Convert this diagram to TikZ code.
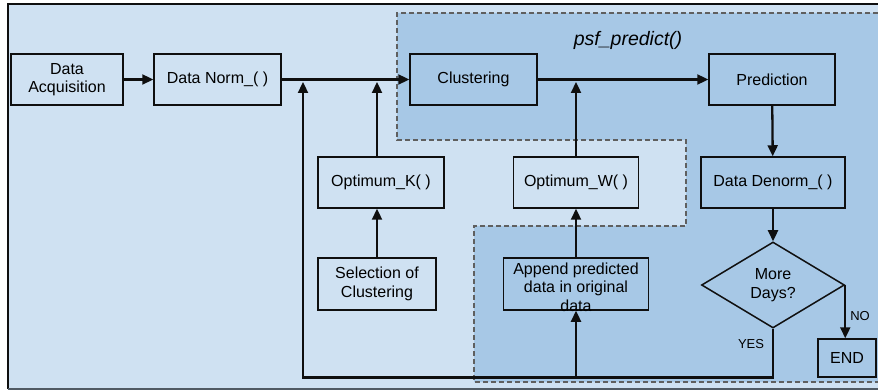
\documentclass[tikz,border=0pt]{standalone}
\usepackage{fontspec}
\setmainfont{Liberation Sans}
\usetikzlibrary{arrows.meta,positioning,shapes.geometric}
\definecolor{ink}{RGB}{15,15,15}
\definecolor{paleblue}{RGB}{207,225,242}
\definecolor{midblue}{RGB}{167,200,230}
\definecolor{dashgrey}{RGB}{95,95,95}
\definecolor{slate}{RGB}{80,90,100}
\tikzset{
  blk/.style={draw=ink,line width=1.5pt,inner sep=0pt,align=center,
    font=\fontsize{16}{18.5}\selectfont},
  txt/.style={inner sep=0pt,align=center,font=\fontsize{16}{18.5}\selectfont},
  dec/.style={diamond,draw=ink,line width=1.5pt,inner sep=0pt,align=center,
    minimum width=143pt,minimum height=86pt,font=\fontsize{16}{18.5}\selectfont},
  arr/.style={-{Triangle[length=11pt,width=10pt]},line width=2.3pt,draw=ink},
  lbl/.style={inner sep=0pt,font=\fontsize{13}{15}\selectfont},
  zonedash/.style={draw=dashgrey,dash pattern=on 5pt off 3pt,line width=1.2pt},
}

\begin{document}
\begin{tikzpicture}[x=1pt,y=-1pt]
\useasboundingbox (0,0) rectangle (878,390);
% background and the psf_predict() zone
\fill[paleblue] (8,4) rectangle (878,389);
\draw[ink,line width=2pt] (878,4) -- (8,4) -- (8,389);
\draw[slate,line width=1.6pt] (8,389) -- (878,389);
\fill[midblue] (397,13) -- (878,13) -- (878,382) -- (474,382) -- (474,226)
  -- (686,226) -- (686,140) -- (397,140) -- cycle;
\draw[zonedash] (878,13) -- (397,13) -- (397,140) -- (686,140) -- (686,226)
  -- (474,226) -- (474,382) -- (878,382);
\node[font=\itshape\fontsize{19.5}{22}\selectfont] (psf) at (628,40) {psf\_predict()};

% blocks
\node[blk,minimum width=112pt,minimum height=51pt] (acq) at (67,79.5) {Data\\Acquisition};
\node[blk,minimum width=127pt,minimum height=51pt] (norm) at (217.5,79.5) {Data Norm\_( )};
\node[blk,minimum width=127pt,minimum height=51pt] (clus) at (473.5,79.5) {Clustering};
\node[blk,minimum width=126pt,minimum height=51pt] (pred) at (772,79.5) {Prediction};
\node[blk,minimum width=144pt,minimum height=51pt] (denorm) at (773,182.5) {Data Denorm\_( )};
\node[blk,minimum width=126pt,minimum height=51pt] (optk) at (381,182.5) {Optimum\_K( )};
\node[blk,minimum width=125pt,minimum height=51pt] (optw) at (576,182.5) {Optimum\_W( )};
\node[blk,minimum width=118pt,minimum height=52pt] (sel) at (377,284) {Selection of\\Clustering};
\node[blk,minimum width=145pt,minimum height=52pt] (app) at (576,284) {};
\node[txt] (apptext) at (576,287) {Append predicted\\data in original\\data};
\node[dec] (more) at (773,285) {More\\Days?};
\node[blk,minimum width=58pt,minimum height=38pt] (fin) at (847,358) {END};

% junctions on the main line and the feedback loop
\coordinate (jloop) at (303,82);
\coordinate (jk) at (377,82);
\coordinate (jw) at (576,82);
\coordinate (loop) at (303,377.5);
\coordinate (split) at (576,377.5);

\draw[arr] (acq) -- (norm);
\draw[arr] (norm) -- (clus);
\draw[arr] (clus) -- (pred);
\draw[arr] (pred) -- (denorm);
\draw[arr] (denorm) -- (more);
\draw[arr] (sel.north) -- (sel.north |- optk.south);
\draw[arr] (sel.north |- optk.north) -- (jk);
\draw[arr] (app.north) -- (optw.south);
\draw[arr] (optw.north) -- (jw);
\draw[arr] (more.south) |- (loop) -- (jloop);
\draw[arr] (split) -- (app.south);
\draw[arr] (more.east) -- (more.east |- fin.north);
\node[lbl] (no) at (860,316) {NO};
\node[lbl] (yes) at (751,344) {YES};
\end{tikzpicture}
\end{document}
